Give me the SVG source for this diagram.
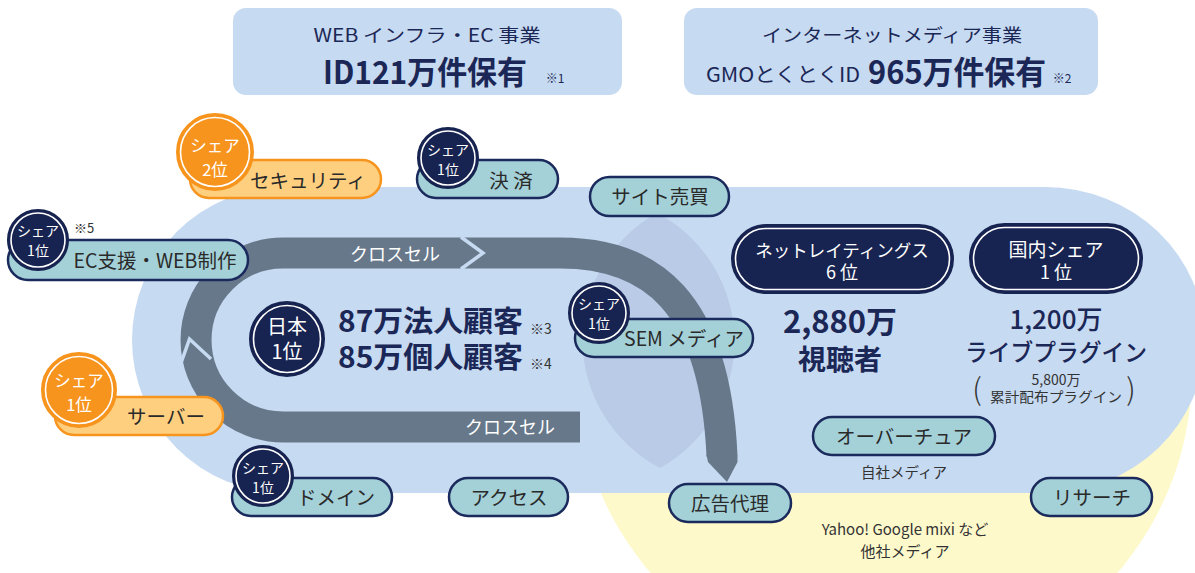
<svg xmlns="http://www.w3.org/2000/svg" width="1195" height="573" viewBox="0 0 1195 573">
<style>
text{font-family:"Noto Sans CJK JP","Noto Sans",sans-serif;}
.pill{fill:#a4d1d8;stroke:#1b2a5c;stroke-width:2.5;}
.opill{fill:#fecf7f;stroke:#f7941d;stroke-width:2.5;}
.pt{font-size:19.5px;fill:#2a2a2a;text-anchor:middle;}
.nb{fill:#172350;stroke:#172350;stroke-width:2;}
.ob{fill:#f7941d;stroke:#f7941d;stroke-width:2;}
.ring{fill:none;stroke:#ffffff;stroke-width:1.6;}
.bt{font-size:14px;fill:#ffffff;text-anchor:middle;}
.obt{font-size:16.5px;fill:#ffffff;text-anchor:middle;}
.navy{fill:#1b2756;}
.top{fill:#c6daf1;}
.band{fill:none;stroke:#66788a;stroke-width:31;}
.gap{fill:none;stroke:#c6daf1;stroke-width:3.5;}
.wt{font-size:18px;fill:#ffffff;text-anchor:middle;}
.small{fill:#333333;text-anchor:middle;}
</style>
<defs>
<clipPath id="lower"><rect x="0" y="300" width="1195" height="273"/></clipPath>
</defs>

<!-- background areas -->
<g id="areas">
<circle cx="884" cy="372" r="308" fill="#fef9cb" clip-path="url(#lower)"/>
<path d="M285,187 L1045,187 A160,153 0 0 1 1045,493 L285,493 A153,153 0 0 1 285,187 Z" fill="#c6daf1"/>
<path d="M657,213 A145,145 0 0 0 660,468 A145,145 0 0 0 657,213 Z" fill="#b9cbe7"/>
</g>

<!-- top summary boxes -->
<g id="box-web">
<rect x="233" y="8" width="389" height="87" rx="13" class="top"/>
<text x="427" y="42" font-size="18" class="navy" text-anchor="middle" textLength="227" lengthAdjust="spacingAndGlyphs">WEB インフラ・EC 事業</text>
<text x="425" y="84" font-size="32" font-weight="700" class="navy" text-anchor="middle" textLength="204" lengthAdjust="spacingAndGlyphs">ID121万件保有</text>
<text x="555" y="83" font-size="12" class="navy" text-anchor="middle">※1</text>
</g>
<g id="box-media">
<rect x="684" y="8" width="414" height="87" rx="13" class="top"/>
<text x="892" y="42" font-size="18" class="navy" text-anchor="middle" textLength="260" lengthAdjust="spacingAndGlyphs">インターネットメディア事業</text>
<text x="706" y="82" font-size="20" class="navy" textLength="154" lengthAdjust="spacingAndGlyphs">GMOとくとくID</text>
<text x="868" y="84" font-size="32" font-weight="700" class="navy" textLength="178" lengthAdjust="spacingAndGlyphs">965万件保有</text>
<text x="1062" y="83" font-size="12" class="navy" text-anchor="middle">※2</text>
</g>

<!-- connectors: cross-sell loop -->
<g id="connectors">
<path class="band" d="M580,427 L283,427 A87,87 0 0 1 283,253 L560,253 C650,253 715,300 722,456"/>
<polygon points="706.5,455 737.5,455 737.5,462 727,482 708,462" fill="#66788a"/>
<polyline class="gap" points="461,237 483,253 461,269"/>
<polyline class="gap" points="181,363 189.5,339 211,359"/>
<text x="395" y="261" class="wt">クロスセル</text>
<text x="510" y="434" class="wt">クロスセル</text>
</g>

<!-- center -->
<g id="node-japan">
<circle cx="287" cy="339" r="37" class="nb"/>
<circle cx="287" cy="339" r="33.5" class="ring"/>
<text x="287" y="334" font-size="20" fill="#fff" text-anchor="middle">日本</text>
<text x="287" y="359" font-size="20" fill="#fff" text-anchor="middle">1位</text>
</g>
<g id="node-customers">
<text x="338" y="332" font-size="29" font-weight="700" class="navy" textLength="185" lengthAdjust="spacingAndGlyphs">87万法人顧客</text>
<text x="541" y="334" font-size="14" class="small">※3</text>
<text x="338" y="368" font-size="29" font-weight="700" class="navy" textLength="185" lengthAdjust="spacingAndGlyphs">85万個人顧客</text>
<text x="541" y="369" font-size="14" class="small">※4</text>
</g>

<!-- pills -->
<g id="node-security">
<rect x="190" y="160" width="191" height="38" rx="19" class="opill"/>
<circle cx="215" cy="152" r="38" class="ob"/>
<circle cx="215" cy="152" r="34.5" class="ring"/>
<text x="215" y="152" class="obt">シェア</text>
<text x="215" y="176" class="obt">2位</text>
<text x="308" y="188" class="pt">セキュリティ</text>
</g>

<g id="node-ec">
<rect x="8" y="240" width="240" height="40" rx="20" class="pill"/>
<circle cx="38" cy="240" r="30" class="nb"/>
<circle cx="38" cy="240" r="27" class="ring"/>
<text x="38" y="236" class="bt">シェア</text>
<text x="38" y="256" class="bt">1位</text>
<text x="155" y="268" class="pt">EC支援・WEB制作</text>
<text x="84" y="233" font-size="13" class="small">※5</text>
</g>

<g id="node-payment">
<rect x="417" y="160" width="141" height="38" rx="19" class="pill"/>
<circle cx="448" cy="158" r="30" class="nb"/>
<circle cx="448" cy="158" r="27" class="ring"/>
<text x="448" y="155" class="bt">シェア</text>
<text x="448" y="175" class="bt">1位</text>
<text x="511" y="188" class="pt">決 済</text>
</g>

<g id="node-site">
<rect x="590" y="177" width="139" height="39" rx="19.5" class="pill"/>
<text x="660" y="204" class="pt">サイト売買</text>
</g>

<g id="node-sem">
<rect x="575" y="319" width="178" height="38" rx="19" class="pill"/>
<circle cx="599" cy="313" r="30" class="nb"/>
<circle cx="599" cy="313" r="27" class="ring"/>
<text x="599" y="309" class="bt">シェア</text>
<text x="599" y="329" class="bt">1位</text>
<text x="684" y="346" class="pt">SEM メディア</text>
</g>

<g id="node-server">
<rect x="55" y="397" width="168" height="38" rx="19" class="opill"/>
<circle cx="79" cy="390" r="37" class="ob"/>
<circle cx="79" cy="390" r="33.5" class="ring"/>
<text x="79" y="387" class="obt">シェア</text>
<text x="79" y="411" class="obt">1位</text>
<text x="166" y="424" class="pt">サーバー</text>
</g>

<g id="node-domain">
<rect x="232" y="478" width="160" height="38" rx="19" class="pill"/>
<circle cx="263" cy="476" r="30" class="nb"/>
<circle cx="263" cy="476" r="27" class="ring"/>
<text x="263" y="473" class="bt">シェア</text>
<text x="263" y="493" class="bt">1位</text>
<text x="336" y="505" class="pt">ドメイン</text>
</g>

<g id="node-access">
<rect x="449" y="478" width="119" height="38" rx="19" class="pill"/>
<text x="509" y="505" class="pt">アクセス</text>
</g>

<g id="node-agency">
<rect x="669" y="484" width="122" height="38" rx="19" class="pill"/>
<text x="730" y="511" class="pt">広告代理</text>
</g>

<g id="node-overture">
<rect x="813" y="417" width="182" height="38" rx="19" class="pill"/>
<text x="904" y="444" class="pt">オーバーチュア</text>
<text x="904" y="478" font-size="14.5" class="small">自社メディア</text>
</g>

<g id="node-research">
<rect x="1031" y="478" width="121" height="38" rx="19" class="pill"/>
<text x="1092" y="505" class="pt">リサーチ</text>
</g>

<g id="node-others">
<text x="905" y="535" font-size="15" class="small">Yahoo! Google mixi など</text>
<text x="905" y="557" font-size="15" class="small">他社メディア</text>
</g>

<!-- right side -->
<g id="node-netrating">
<rect x="732" y="225" width="221" height="68" rx="34" class="nb"/>
<rect x="735.5" y="228.5" width="214" height="61" rx="30.5" class="ring"/>
<text x="842" y="257" font-size="17.5" fill="#fff" text-anchor="middle">ネットレイティングス</text>
<text x="842" y="279" font-size="18" fill="#fff" text-anchor="middle">6 位</text>
</g>
<g id="node-viewers">
<text x="840" y="333" font-size="31" font-weight="700" class="navy" text-anchor="middle">2,880万</text>
<text x="840" y="370" font-size="28" font-weight="700" class="navy" text-anchor="middle">視聴者</text>
</g>

<g id="node-domestic">
<rect x="970" y="224" width="172" height="69" rx="34.5" class="nb"/>
<rect x="973.5" y="227.5" width="165" height="62" rx="31" class="ring"/>
<text x="1056" y="257" font-size="19" fill="#fff" text-anchor="middle">国内シェア</text>
<text x="1056" y="279" font-size="18" fill="#fff" text-anchor="middle">1 位</text>
</g>
<g id="node-plugin">
<text x="1056" y="329" font-size="26" font-weight="500" class="navy" text-anchor="middle">1,200万</text>
<text x="1056" y="361" font-size="23.5" font-weight="500" class="navy" text-anchor="middle" textLength="182" lengthAdjust="spacingAndGlyphs">ライブプラグイン</text>
<text x="977" y="400" font-size="30" class="small" font-weight="300">(</text>
<text x="1131" y="400" font-size="30" class="small" font-weight="300">)</text>
<text x="1056" y="385" font-size="14" class="small">5,800万</text>
<text x="1056" y="402" font-size="14" class="small" textLength="132" lengthAdjust="spacingAndGlyphs">累計配布プラグイン</text>
</g>
</svg>
